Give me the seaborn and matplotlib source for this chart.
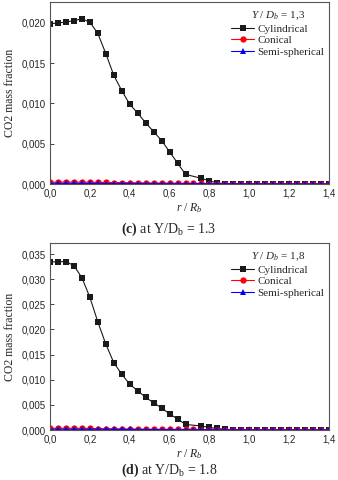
import numpy as np
import pandas as pd
import matplotlib
matplotlib.use("Agg")
import matplotlib.pyplot as plt
from matplotlib.ticker import FuncFormatter, MultipleLocator
import seaborn as sns

# ---- data ----
series_names = ["Cylindrical", "Conical", "Semi-spherical"]

r_cyl = [0.00, 0.04, 0.08, 0.12, 0.16, 0.20, 0.24, 0.28, 0.32, 0.36, 0.40, 0.44, 0.48,
         0.52, 0.56, 0.60, 0.64, 0.68, 0.76, 0.80, 0.84, 0.88, 0.92, 0.96, 1.00, 1.04,
         1.08, 1.12, 1.16, 1.20, 1.24, 1.28, 1.32, 1.36, 1.40]
r_all = [0.00, 0.04, 0.08, 0.12, 0.16, 0.20, 0.24, 0.28, 0.32, 0.36, 0.40, 0.44, 0.48,
         0.52, 0.56, 0.60, 0.64, 0.68, 0.72, 0.76, 0.80, 0.84, 0.88, 0.92, 0.96, 1.00,
         1.04, 1.08, 1.12, 1.16, 1.20, 1.24, 1.28, 1.32, 1.36, 1.40]

cyl_c = [0.0199, 0.0200, 0.0201, 0.0203, 0.0205, 0.0201, 0.0187, 0.0162, 0.0135, 0.0116,
         0.0099, 0.0088, 0.0076, 0.0065, 0.0054, 0.0040, 0.0026, 0.0012, 0.0007, 0.0004,
         0.00012, 0.00006, 0.00004, 0.00003, 0.00002, 0.00002, 0.00001, 0.00001, 0.00001,
         0.0, 0.0, 0.0, 0.0, 0.0, 0.0]
con_c = [0.00022, 0.00024, 0.00025, 0.00024, 0.00023, 0.00022, 0.00021, 0.00019, 0.00018,
         0.00017, 0.00016, 0.00015, 0.00014, 0.00013, 0.00012, 0.00011, 0.00010, 0.00009,
         0.00008, 0.00007, 0.00006, 0.00005, 0.00004, 0.00004, 0.00003, 0.00003, 0.00002,
         0.00002, 0.00002, 0.00001, 0.00001, 0.00001, 0.00001, 0.0, 0.0, 0.0]
semi_c = [0.00008, 0.00008, 0.00008, 0.00008, 0.00007, 0.00007, 0.00007, 0.00006, 0.00006,
          0.00006, 0.00005, 0.00005, 0.00005, 0.00004, 0.00004, 0.00004, 0.00003, 0.00003,
          0.00003, 0.00003, 0.00002, 0.00002, 0.00002, 0.00002, 0.00001, 0.00001, 0.00001,
          0.00001, 0.00001, 0.00001, 0.0, 0.0, 0.0, 0.0, 0.0, 0.0]

cyl_d = [0.0334, 0.0335, 0.0335, 0.0327, 0.0303, 0.0264, 0.0215, 0.0171, 0.0134, 0.0111,
         0.0091, 0.0078, 0.0065, 0.0054, 0.0044, 0.0032, 0.0022, 0.0011, 0.0008, 0.0005,
         0.0003, 0.00012, 0.00008, 0.00005, 0.00004, 0.00003, 0.00002, 0.00002, 0.00001,
         0.00001, 0.0, 0.0, 0.0, 0.0, 0.0]
con_d = [0.00032, 0.00034, 0.00034, 0.00033, 0.00032, 0.00030, 0.00028, 0.00026, 0.00024,
         0.00022, 0.00020, 0.00018, 0.00017, 0.00015, 0.00014, 0.00013, 0.00012, 0.00011,
         0.00010, 0.00009, 0.00008, 0.00007, 0.00006, 0.00005, 0.00004, 0.00004, 0.00003,
         0.00003, 0.00002, 0.00002, 0.00002, 0.00001, 0.00001, 0.00001, 0.0, 0.0]
semi_d = [0.00015, 0.00015, 0.00015, 0.00014, 0.00014, 0.00013, 0.00013, 0.00012, 0.00011,
          0.00011, 0.00010, 0.00009, 0.00009, 0.00008, 0.00007, 0.00007, 0.00006, 0.00006,
          0.00005, 0.00005, 0.00004, 0.00004, 0.00003, 0.00003, 0.00003, 0.00002, 0.00002,
          0.00002, 0.00001, 0.00001, 0.00001, 0.00001, 0.0, 0.0, 0.0, 0.0]

x_ticks = [0.0, 0.2, 0.4, 0.6, 0.8, 1.0, 1.2, 1.4]
legend_titles = ["$Y$ / $D_b$ = 1,3", "$Y$ / $D_b$ = 1,8"]
captions = ["(c)", "(d)"]
caption_rest = [" at Y/D$_\\mathrm{b}$ = 1.3", " at Y/D$_\\mathrm{b}$ = 1.8"]

# ---- style ----
sns.set_theme(style="white")
plt.rcParams["font.family"] = ["Liberation Serif", "DejaVu Serif"]
plt.rcParams["mathtext.fontset"] = "custom"
plt.rcParams["mathtext.rm"] = "Liberation Serif"
plt.rcParams["mathtext.it"] = "Liberation Serif:italic"
plt.rcParams["mathtext.bf"] = "Liberation Serif:bold"

palette = {"Cylindrical": "#1a1a1a", "Conical": "#ff0000", "Semi-spherical": "#0000ff"}
markers = {"Cylindrical": "s", "Conical": "o", "Semi-spherical": "^"}

def make_df(cyl, con, semi):
    frames = [
        pd.DataFrame({"r": r_cyl, "val": cyl, "series": "Cylindrical"}),
        pd.DataFrame({"r": r_all, "val": con, "series": "Conical"}),
        pd.DataFrame({"r": r_all, "val": semi, "series": "Semi-spherical"}),
    ]
    return pd.concat(frames, ignore_index=True)

fig = plt.figure(figsize=(3.38, 4.80), dpi=100)
W, H = 338, 480
panels = [
    dict(df=make_df(cyl_c, con_c, semi_c), box=(50, 2, 329, 184), ylim=0.0226, ystep=0.005,
         cap_y=229),
    dict(df=make_df(cyl_d, con_d, semi_d), box=(50, 243, 329, 430), ylim=0.0372, ystep=0.005,
         cap_y=470),
]

comma = FuncFormatter(lambda v, p: f"{v:.3f}".replace(".", ","))
comma1 = FuncFormatter(lambda v, p: f"{v:.1f}".replace(".", ","))

for i, pnl in enumerate(panels):
    l, t, rr, b = pnl["box"]
    ax = fig.add_axes([l / W, 1 - b / H, (rr - l) / W, (b - t) / H])
    sns.lineplot(data=pnl["df"], x="r", y="val", hue="series", style="series",
                 hue_order=series_names, style_order=series_names,
                 palette=palette, markers=markers, dashes=False,
                 markersize=4.5, linewidth=0.8, markeredgewidth=0, ax=ax)
    ax.set_xlim(0, 1.4)
    ax.set_ylim(0, pnl["ylim"])
    ax.set_xticks(x_ticks)
    ax.xaxis.set_major_formatter(comma1)
    ax.yaxis.set_major_locator(MultipleLocator(pnl["ystep"]))
    ax.yaxis.set_major_formatter(comma)
    ax.tick_params(axis="both", direction="in", length=3, width=0.6, labelsize=7,
                   bottom=True, left=True, pad=3)
    for lab in ax.get_xticklabels() + ax.get_yticklabels():
        lab.set_fontfamily("Liberation Sans")
    for s in ax.spines.values():
        s.set_color("#555555")
        s.set_linewidth(0.8)
    ax.set_xlabel("$r$ / $R_b$", fontsize=8.5, labelpad=2)
    ax.set_ylabel("CO2 mass fraction", fontsize=8.5, labelpad=4)
    leg = ax.legend(title=legend_titles[i], loc="upper right", frameon=False,
                    fontsize=8, title_fontsize=8, handlelength=2.0, handletextpad=0.3,
                    labelspacing=0.15, borderaxespad=0.3, bbox_to_anchor=(1.01, 1.0))
    fig.text(0.5, 1 - pnl["cap_y"] / H,
             "$\\mathbf{" + captions[i] + "}$" + caption_rest[i],
             ha="center", va="center", fontsize=10)

fig.savefig("out.png", dpi=100, facecolor="white")
